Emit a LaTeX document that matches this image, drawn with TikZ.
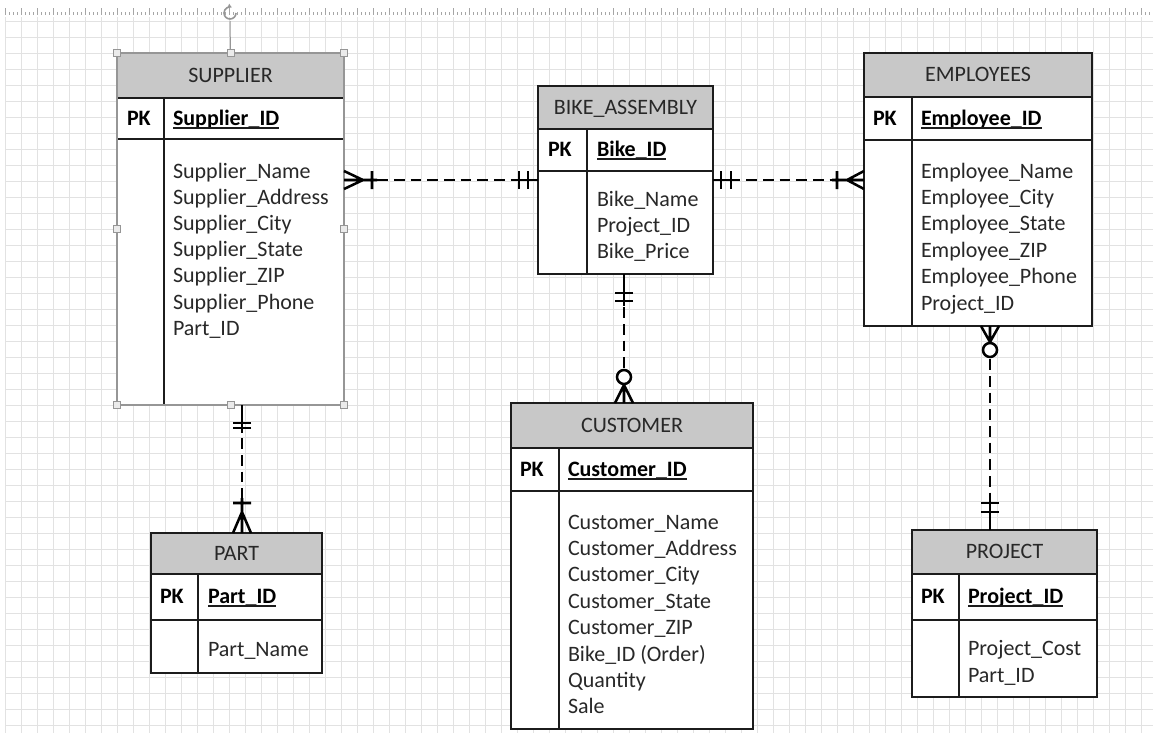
\documentclass[tikz,border=0pt]{standalone}
\usepackage{fontspec}
\setmainfont{Carlito}
\usetikzlibrary{calc,arrows.meta}

\definecolor{hdrgray}{RGB}{200,200,200}
\definecolor{ink}{RGB}{40,40,40}
\definecolor{rulecol}{RGB}{28,28,28}
\definecolor{gridcol}{RGB}{226,226,226}
\definecolor{selgray}{RGB}{150,150,150}
\definecolor{handlefill}{RGB}{235,235,235}

\tikzset{
  every node/.style={inner sep=0pt, outer sep=0pt},
  gridline/.style={draw=gridcol, line width=0.75pt},
  tick/.style={draw=black!35, line width=0.6pt},
  frame/.style={draw=rulecol, line width=1.5pt, rectangle},
  rule/.style={draw=rulecol, line width=1.5pt},
  titletext/.style={font=\fontsize{16.5pt}{19.65pt}\selectfont, text=ink, anchor=base},
  pktext/.style={font=\fontsize{16.5pt}{19.65pt}\selectfont\bfseries, text=black, anchor=base west},
  attr/.style={font=\fontsize{16.5pt}{19.65pt}\selectfont, text=ink, anchor=base west},
  conn/.style={draw=black, line width=1.9pt, dash pattern=on 8pt off 4.5pt},
  sym/.style={draw=black, line width=1.9pt},
  handle/.style={draw=selgray, fill=handlefill, line width=0.6pt, rectangle, minimum size=5.25pt},
}

% table: name, x1, y1, x2, y2, header bottom, key row bottom, divider x, title
\newcommand\ertable[9]{%
  \fill[white] (#2,#3) rectangle (#4,#5);
  \fill[hdrgray] (#2,#3) rectangle (#4,#6);
  \draw[rule] (#2,#6) -- (#4,#6) (#2,#7) -- (#4,#7) (#8,#6) -- (#8,#5);
  \node[frame, anchor=north west, minimum width={(#4-#2)*0.75pt},
        minimum height={(#5-#3)*0.75pt}] (#1) at (#2,#3) {};
  \node[titletext] (#1-title) at ({(#2+#4)/2},{(#3+#6)/2+6.5}) {#9};
}

% key row: name, PK x, key x, baseline, key text
\newcommand\pkrow[5]{%
  \node[pktext] (#1-pk) at (#2,#4) {PK};
  \node[pktext] (#1-id) at (#3,#4) {#5};
  \draw[rulecol, line width=1.5pt] ($(#1-id.base west)+(0,3)$) -- ($(#1-id.base east)+(0,3)$);
}

% attribute list: name, x, first baseline, line step, items
\newcommand\attrs[5]{%
  \foreach \t [count=\i from 0] in {#5}
    \node[attr] (#1-a\i) at (#2,{#3+#4*\i}) {\t};
}

% relationship ends, drawn outward from the table edge
\newcommand\bars[4]{% point, angle, first bar, second bar
  \begin{scope}[shift={(#1)}, rotate=#2]
    \draw[sym] (0,0) -- ({#4+5},0) (#3,-9) -- (#3,9) (#4,-9) -- (#4,9);
  \end{scope}}
\newcommand\crowbar[4]{% point, angle, crow tip, bar
  \begin{scope}[shift={(#1)}, rotate=#2]
    \draw[sym] (0,-9) -- (#3,0) -- (0,9) (0,0) -- ({#4+5},0) (#4,-9) -- (#4,9);
  \end{scope}}
\newcommand\crowring[4]{% point, angle, crow tip, ring centre
  \begin{scope}[shift={(#1)}, rotate=#2]
    \draw[sym] (0,-9) -- (#3,0) -- (0,9) (0,0) -- (#3,0);
    \draw[sym, fill=white] (#4,0) circle [radius=7];
  \end{scope}}

\begin{document}
\begin{tikzpicture}[x=0.75pt, y=-0.75pt]
  \useasboundingbox (0,0) rectangle (1153,733);
  \fill[white] (0,0) rectangle (1153,733);

  % drawing grid and ruler
  \foreach \x in {5,21,...,1153} \draw[gridline] (\x,17) -- (\x,733);
  \foreach \y in {21,37,...,733} \draw[gridline] (5,\y) -- (1153,\y);
  \foreach \x in {5,9,...,1153} \draw[tick] (\x,12) -- (\x,15);
  \foreach \x in {5,21,...,1153} \draw[tick] (\x,8) -- (\x,15);

  % entities
  \ertable{sup}{117}{53}{344}{405}{98}{139}{164}{SUPPLIER}
  \pkrow{sup}{127}{173}{125}{Supplier\_ID}
  \attrs{sup}{173}{178}{26.2}{Supplier\_Name,Supplier\_Address,Supplier\_City,Supplier\_State,Supplier\_ZIP,Supplier\_Phone,Part\_ID}

  \ertable{bike}{538}{86}{713}{274}{129}{171}{587}{BIKE\_ASSEMBLY}
  \pkrow{bike}{548}{597}{156}{Bike\_ID}
  \attrs{bike}{597}{206}{26.4}{Bike\_Name,Project\_ID,Bike\_Price}

  \ertable{emp}{864}{53}{1092}{326}{97}{140}{912}{EMPLOYEES}
  \pkrow{emp}{873}{921}{125}{Employee\_ID}
  \attrs{emp}{921}{178}{26.4}{Employee\_Name,Employee\_City,Employee\_State,Employee\_ZIP,Employee\_Phone,Project\_ID}

  \ertable{cust}{511}{403}{753}{729}{448}{491}{559}{CUSTOMER}
  \pkrow{cust}{520}{568}{476}{Customer\_ID}
  \attrs{cust}{568}{529}{26.4}{Customer\_Name,Customer\_Address,Customer\_City,Customer\_State,Customer\_ZIP,Bike\_ID (Order),Quantity,Sale}

  \ertable{proj}{912}{530}{1097}{697}{574}{620}{959}{PROJECT}
  \pkrow{proj}{921}{968}{603}{Project\_ID}
  \attrs{proj}{968}{655}{27}{Project\_Cost,Part\_ID}

  \ertable{part}{151}{533}{322}{673}{574}{620}{198}{PART}
  \pkrow{part}{160}{208}{603}{Part\_ID}
  \attrs{part}{208}{656}{27}{Part\_Name}

  % selection frame on SUPPLIER
  \draw[selgray, line width=1.5pt] (sup.north west) rectangle (sup.south east);
  \draw[selgray, line width=0.75pt] (230,21) -- (sup.north);
  \draw[selgray, line width=1.2pt, -{Latex[length=3pt,width=4pt]}] (236,13) arc[start angle=0, end angle=290, radius=6];
  \node[handle] (h1) at (sup.north west) {};
  \node[handle] (h2) at (sup.north) {};
  \node[handle] (h3) at (sup.north east) {};
  \node[handle] (h4) at (sup.west) {};
  \node[handle] (h5) at (sup.east) {};
  \node[handle] (h6) at (sup.south west) {};
  \node[handle] (h7) at (sup.south) {};
  \node[handle] (h8) at (sup.south east) {};

  % connector end points
  \coordinate (c1a) at ($(sup.north east)+(0,127)$);
  \coordinate (c1b) at (bike.west |- c1a);
  \coordinate (c2a) at (bike.east |- c1a);
  \coordinate (c2b) at (emp.west |- c1a);
  \coordinate (c3a) at ($(bike.south west)+(86,0)$);
  \coordinate (c3b) at (cust.north -| c3a);
  \coordinate (c4a) at ($(emp.south west)+(126,0)$);
  \coordinate (c4b) at (proj.north -| c4a);
  \coordinate (c5a) at ($(sup.south west)+(125,0)$);
  \coordinate (c5b) at (part.north -| c5a);

  % relationships
  \draw[conn] (c1a) -- (c1b);
  \draw[conn] (c2a) -- (c2b);
  \draw[conn] (c3a) -- (c3b);
  \draw[conn] (c4a) -- (c4b);
  \draw[conn] (c5a) -- (c5b);

  \crowbar{c1a}{0}{19}{28}
  \bars{c1b}{180}{10}{19}
  \bars{c2a}{0}{8}{18}
  \crowbar{c2b}{180}{17}{27}
  \bars{c3a}{-90}{19}{27}
  \crowring{c3b}{90}{18}{26}
  \crowring{c4a}{-90}{16}{24}
  \bars{c4b}{90}{18}{27}
  \bars{c5a}{-90}{18}{23}
  \crowbar{c5b}{90}{21}{30}
\end{tikzpicture}
\end{document}
